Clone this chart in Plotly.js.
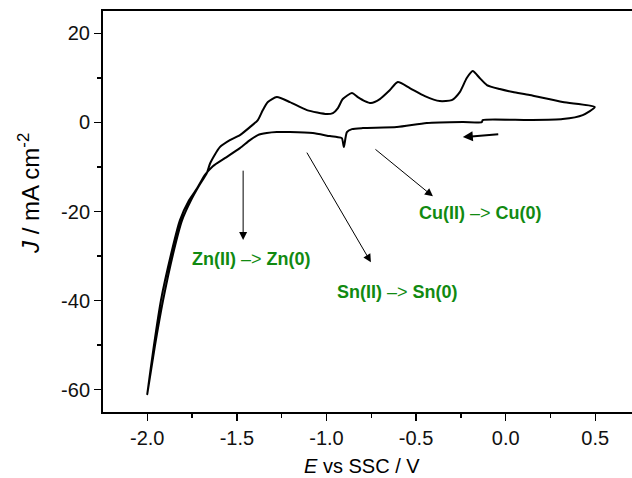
<!DOCTYPE html>
<html>
<head>
<meta charset="utf-8">
<script src="https://cdn.plot.ly/plotly-3.0.1.min.js"></script>
<style>html,body{margin:0;padding:0;background:#fff;}#plot{width:632px;height:478px;}</style>
</head>
<body>
<div id="plot"></div>
<script>
// Cathodic (forward) scan: 0.5 V -> -2.0 V
var E_forward = [0.497, 0.430, 0.318, 0.134, -0.128, -0.133, -0.239, -0.440, -0.607, -0.797, -0.858, -0.886, -0.903, -0.914, -0.942, -0.981, -1.076, -1.204, -1.277, -1.333, -1.383, -1.427, -1.483, -1.567, -1.634, -1.678, -1.722, -1.767, -1.818, -1.862, -1.924, -1.963, -2.000];
var J_forward = [3.44, 1.64, 0.74, 0.52, 0.52, 0.07, 0.07, -0.16, -1.06, -1.28, -1.51, -2.18, -5.55, -3.53, -3.30, -3.08, -2.40, -2.18, -2.18, -2.40, -2.85, -3.98, -5.78, -8.02, -9.82, -11.8, -14.8, -17.5, -22.0, -28.7, -40.0, -50.1, -61.0];
// Anodic (return) scan: -2.0 V -> 0.5 V
var E_reverse = [-2.000, -1.957, -1.912, -1.851, -1.806, -1.756, -1.712, -1.667, -1.649, -1.595, -1.539, -1.483, -1.427, -1.383, -1.355, -1.327, -1.277, -1.204, -1.109, -0.998, -0.964, -0.936, -0.909, -0.858, -0.825, -0.786, -0.752, -0.702, -0.646, -0.602, -0.535, -0.451, -0.368, -0.301, -0.256, -0.217, -0.184, -0.145, -0.105, -0.033, 0.040, 0.134, 0.318, 0.497];
var J_reverse = [-61.0, -50.1, -40.0, -28.7, -22.0, -17.5, -14.3, -11.3, -9.17, -5.55, -3.98, -2.85, -1.06, 0.52, 2.76, 4.56, 5.69, 4.56, 2.76, 1.87, 2.09, 3.21, 5.24, 6.58, 5.69, 4.79, 4.34, 5.24, 7.26, 9.06, 7.71, 5.91, 4.79, 5.01, 6.81, 9.96, 11.53, 9.96, 8.38, 7.48, 6.81, 6.13, 4.56, 3.44];

var xTickVals = [-2.0, -1.5, -1.0, -0.5, 0.0, 0.5];
var xTickText = ['-2.0', '-1.5', '-1.0', '-0.5', '0.0', '0.5'];
var yTickVals = [-60, -40, -20, 0, 20];
var yTickText = ['-60', '-40', '-20', '0', '20'];

// Labels
var labelTexts = ['<b>Cu(II)</b> –> <b>Cu(0)</b>', '<b>Zn(II)</b> –> <b>Zn(0)</b>', '<b>Sn(II)</b> –> <b>Sn(0)</b>'];
var labelE = [-0.139, -1.416, -0.602];
var labelJ = [-20.4, -30.7, -38.1];
// Arrows: tail (E,J) -> head (E,J)
var arrowTailE = [-1.465, -1.114, -0.735, -0.033];
var arrowTailJ = [-10.5, -6.45, -5.78, -2.63];
var arrowHeadE = [-1.465, -0.752, -0.406, -0.239];
var arrowHeadJ = [-26.4, -31.4, -16.6, -3.30];
var arrowWidth = [1, 1, 1, 2];

var FONT = 'Liberation Sans, Arial, sans-serif';

var traces = [{
  x: E_forward.concat(E_reverse.slice(1)),
  y: J_forward.concat(J_reverse.slice(1)),
  mode: 'lines',
  line: {color: '#000', width: 2, shape: 'spline', smoothing: 0.6},
  hoverinfo: 'none'
}];

var annotations = [];
for (var i = 0; i < labelTexts.length; i++) {
  annotations.push({x: labelE[i], y: labelJ[i], xref: 'x', yref: 'y', text: labelTexts[i], showarrow: false,
    font: {family: FONT, size: 18, color: '#118a11'}});
}
for (var k = 0; k < arrowTailE.length; k++) {
  annotations.push({x: arrowHeadE[k], y: arrowHeadJ[k], ax: arrowTailE[k], ay: arrowTailJ[k],
    xref: 'x', yref: 'y', axref: 'x', ayref: 'y', text: '', showarrow: true,
    arrowhead: 2, arrowsize: k === 3 ? 1 : 1.6, arrowwidth: arrowWidth[k], arrowcolor: '#000'});
}
annotations.push({xref: 'paper', yref: 'paper', x: (29 - 103) / 529, y: (412 - 194) / 401,
  text: '<i>J</i> / mA cm<sup>-2</sup>', textangle: -90, showarrow: false, xanchor: 'center', yanchor: 'middle',
  font: {family: FONT, size: 24, color: '#000'}});
annotations.push({xref: 'paper', yref: 'paper', x: (362 - 103) / 529, y: (412 - 466) / 401,
  text: '<i>E</i> vs SSC / V', showarrow: false, xanchor: 'center', yanchor: 'middle',
  font: {family: FONT, size: 20, color: '#000'}});

var layout = {
  width: 632, height: 478,
  margin: {l: 103, r: 0, t: 11, b: 66},
  paper_bgcolor: '#fff', plot_bgcolor: '#fff',
  showlegend: false,
  font: {family: FONT, size: 20, color: '#111'},
  xaxis: {
    range: [-2.247, 0.705], showgrid: false, zeroline: false,
    showline: true, linecolor: '#000', linewidth: 2, mirror: true,
    ticks: 'outside', ticklen: 7, tickwidth: 1.5, tickcolor: '#000',
    tickmode: 'array', tickvals: xTickVals, ticktext: xTickText,
    minor: {dtick: 0.25, tick0: 0, ticks: 'outside', ticklen: 4, tickwidth: 1.5, tickcolor: '#000', showgrid: false},
    tickfont: {size: 20, color: '#111'}
  },
  yaxis: {
    range: [-65, 25], showgrid: false, zeroline: false,
    showline: true, linecolor: '#000', linewidth: 2, mirror: false,
    ticks: 'outside', ticklen: 7, tickwidth: 1.5, tickcolor: '#000',
    tickmode: 'array', tickvals: yTickVals, ticktext: yTickText,
    minor: {dtick: 10, tick0: 0, ticks: 'outside', ticklen: 4, tickwidth: 1.5, tickcolor: '#000', showgrid: false},
    tickfont: {size: 20, color: '#111'}
  },
  annotations: annotations
};

Plotly.newPlot('plot', traces, layout, {displayModeBar: false, staticPlot: true});
</script>
</body>
</html>
